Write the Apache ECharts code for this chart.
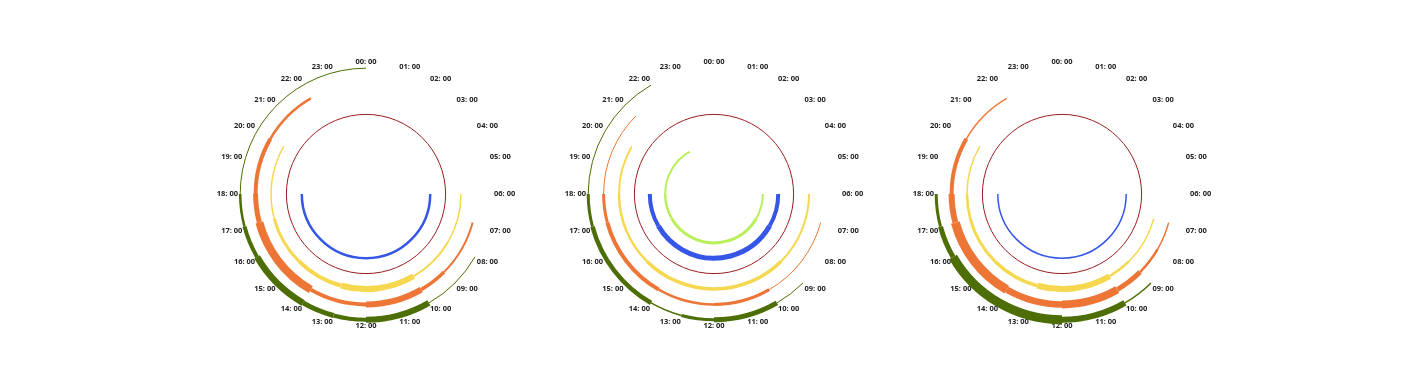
<!DOCTYPE html>
<html>
<head>
<meta charset="utf-8">
<script src="https://cdn.jsdelivr.net/npm/echarts@6/dist/echarts.min.js"></script>
<style>
html,body{margin:0;padding:0;background:#fff;}
#main{width:1426px;height:371px;}
</style>
</head>
<body>
<div id="main"></div>
<script>
// Tick labels for the 24-hour angle axis
const hourLabels = ['00: 00','01: 00','02: 00','03: 00','04: 00','05: 00','06: 00','07: 00','08: 00','09: 00','10: 00','11: 00',
  '12: 00','13: 00','14: 00','15: 00','16: 00','17: 00','18: 00','19: 00','20: 00','21: 00','22: 00','23: 00'];

// Ring positions on the radius axis
const RING_LIGHTGREEN = 3, RING_BLUE = 4, RING_RED = 5, RING_YELLOW = 6, RING_ORANGE = 7, RING_GREEN = 8;

// Segments per ring: [startHour, endHour, thickness]
// Chart 1
const c1Blue   = [[6,18,2.5]];
const c1Red    = [[0,24,1]];
const c1Yellow = [[6,8,1.5],[8,10,2],[10,13,6],[13,15,4],[15,17,3],[17,20,1.5]];
const c1Orange = [[7,9,2],[9,10,3.5],[10,12,6],[12,14,4],[14,17,8],[17,18,5],[18,20,4],[20,22,2.5]];
const c1Green  = [[8,10,1],[10,12,6],[12,13,4],[13,14,5],[14,16,6.5],[16,17,4],[17,18,2.5],[18,24,1]];
// Chart 2
const c2LightGreen = [[6,8,2],[8,16,3],[16,18,2.5],[18,22,2]];
const c2Blue   = [[6,8,4],[8,16,5],[16,18,4]];
const c2Red    = [[0,24,1]];
const c2Yellow = [[6,9,2],[9,15,3.5],[15,18,2.5],[18,20,2]];
const c2Orange = [[7,10,1],[10,12,3],[12,14,2.5],[14,17,4],[17,18,3],[18,21,1]];
const c2Green  = [[9,10,1],[10,12,5],[12,13,3],[13,14,1.5],[14,17,4.5],[17,18,3],[18,22,1]];
// Chart 3
const c3Blue   = [[6,18,1.5]];
const c3Red    = [[0,24,1]];
const c3Yellow = [[7,9,1.5],[9,10,2.5],[10,13,6],[13,15,3.5],[15,17,3],[17,18,2.5],[18,20,1.5]];
const c3Orange = [[7,8,1.5],[8,9,2.5],[9,10,5],[10,12,8],[12,14,6.5],[14,17,9],[17,18,6],[18,20,4],[20,22,1.5]];
const c3Green  = [[9,10,1.5],[10,12,6],[12,16,9],[16,17,5],[17,18,3]];

const ringColors = {3:'#b9ef5b', 4:'#3556e6', 5:'#9b1c1f', 6:'#f5d750', 7:'#ed7637', 8:'#4c6e05'};

function build(list){
  const out = [];
  list.forEach(([ring, segs]) => segs.forEach(s => out.push([ring, s[0], s[1], s[2]])));
  return out;
}
const chartData = [
  build([[RING_RED,c1Red],[RING_BLUE,c1Blue],[RING_YELLOW,c1Yellow],[RING_ORANGE,c1Orange],[RING_GREEN,c1Green]]),
  build([[RING_RED,c2Red],[RING_LIGHTGREEN,c2LightGreen],[RING_BLUE,c2Blue],[RING_YELLOW,c2Yellow],[RING_ORANGE,c2Orange],[RING_GREEN,c2Green]]),
  build([[RING_RED,c3Red],[RING_BLUE,c3Blue],[RING_YELLOW,c3Yellow],[RING_ORANGE,c3Orange],[RING_GREEN,c3Green]])
];

const centers = [[366,194],[714,194],[1062,194]];

function renderItem(params, api){
  const cs = params.coordSys;
  const ring = api.value(0), h0 = api.value(1), h1 = api.value(2), w = api.value(3);
  const p0 = api.coord([ring, h0]);
  const p1 = api.coord([ring, h1]);
  const r = Math.hypot(p0[0]-cs.cx, p0[1]-cs.cy);
  let a0 = Math.atan2(p0[1]-cs.cy, p0[0]-cs.cx);
  let a1 = Math.atan2(p1[1]-cs.cy, p1[0]-cs.cx);
  if (a1 <= a0 + 1e-6) a1 += Math.PI*2;
  return {
    type:'arc',
    shape:{cx:cs.cx, cy:cs.cy, r:r, startAngle:a0, endAngle:a1, clockwise:true},
    style:{stroke:ringColors[ring], lineWidth:w, fill:null, lineCap:'butt'}
  };
}

const option = {
  animation:false,
  polar: centers.map(c => ({center:c, radius:105})),
  angleAxis: centers.map((c,i) => ({
    polarIndex:i, type:'value', min:0, max:24, interval:1, startAngle:90, clockwise:true,
    axisLine:{show:false}, axisTick:{show:false}, splitLine:{show:false},
    axisLabel:{margin:23, fontSize:7.5, fontWeight:'bold', color:'#222', fontFamily:'Noto Sans',
      formatter:v => hourLabels[v] || ''}
  })),
  radiusAxis: centers.map((c,i) => ({
    polarIndex:i, type:'value', min:-0.169, max:6.649, show:false,
    axisLine:{show:false}, axisTick:{show:false}, axisLabel:{show:false}, splitLine:{show:false}
  })),
  series: chartData.map((d,i) => ({
    type:'custom', coordinateSystem:'polar', polarIndex:i, clip:false,
    encode:{radius:0, angle:[1,2]},
    renderItem:renderItem, data:d, silent:true
  }))
};
echarts.init(document.getElementById('main')).setOption(option);
</script>
</body>
</html>
